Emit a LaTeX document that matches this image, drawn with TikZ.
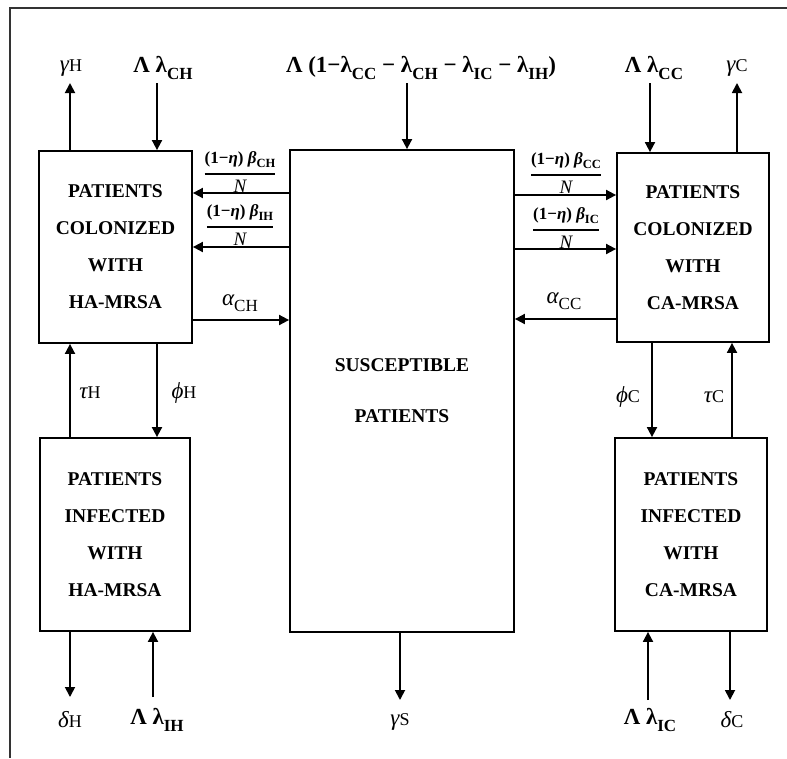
\documentclass[tikz,border=0pt]{standalone}
\usepackage{fontspec}
\usepackage{amsmath}
\setmainfont{Liberation Serif}
\usetikzlibrary{arrows.meta}
\newcommand\lsub[1]{\raisebox{-0.28em}{\fontsize{17}{17}\selectfont #1}}
\newcommand\fsub[1]{\raisebox{-0.25em}{\fontsize{12.5}{12.5}\selectfont #1}}
\newcommand\frc[2]{$\genfrac{}{}{1.8pt}{0}{\text{#1}}{\text{#2}}$}
\newcommand\up[1]{{\fontsize{18}{18}\selectfont #1}}
\newcommand\den{\fontsize{19}{19}\selectfont\itshape N}
\begin{document}
\begin{tikzpicture}[x=1pt,y=-1pt,
  box/.style={draw,line width=1.8pt,inner sep=0pt,align=center,font=\fontsize{19.5}{37}\selectfont\bfseries},
  arr/.style={line width=1.8pt,-{Triangle[length=10pt,width=10pt]}},
  lab/.style={inner sep=0pt,font=\fontsize{23}{23}\selectfont},
  blab/.style={inner sep=0pt,font=\fontsize{23}{23}\selectfont\bfseries},
  frl/.style={inner sep=0pt,font=\fontsize{17}{17}\selectfont}]
\useasboundingbox (0,0) rectangle (787,758);
\draw[line width=2pt,black!80] (787,8) -- (10,8) -- (10,758);
% boxes
\node[box,minimum width=153pt,minimum height=192pt] (HC) at (115.5,247) {PATIENTS\\COLONIZED\\WITH\\HA-MRSA};
\node[box,minimum width=150pt,minimum height=193pt] (HI) at (115,534.5) {PATIENTS\\INFECTED\\WITH\\HA-MRSA};
\node[box,minimum width=224pt,minimum height=482pt,font=\fontsize{19.5}{51}\selectfont\bfseries] (S) at (402,391) {SUSCEPTIBLE\\PATIENTS};
\node[box,minimum width=152pt,minimum height=189pt] (CC) at (693,247.5) {PATIENTS\\COLONIZED\\WITH\\CA-MRSA};
\node[box,minimum width=152pt,minimum height=193pt] (CI) at (691,534.5) {PATIENTS\\INFECTED\\WITH\\CA-MRSA};
% top labels
\node[lab] (gH) at (71,68) {{\itshape γ}\up{H}};
\node[blab] (LCH) at (163,68) {Λ λ\lsub{CH}};
\node[blab] (Ltop) at (421,68) {Λ (1−λ\lsub{CC} − λ\lsub{CH} − λ\lsub{IC} − λ\lsub{IH})};
\node[blab] (LCC) at (654,68) {Λ λ\lsub{CC}};
\node[lab] (gC) at (737,68) {{\itshape γ}\up{C}};
% side labels
\node[frl] (fCH) at (240,172) {\frc{\bfseries(1−\textit{η}) \textit{β}\fsub{CH}}{\den}};
\node[frl] (fIH) at (240,225) {\frc{\bfseries(1−\textit{η}) \textit{β}\fsub{IH}}{\den}};
\node[frl] (fCC) at (566,173) {\frc{\bfseries(1−\textit{η}) \textit{β}\fsub{CC}}{\den}};
\node[frl] (fIC) at (566,228) {\frc{\bfseries(1−\textit{η}) \textit{β}\fsub{IC}}{\den}};
\node[lab] (aCH) at (240,303) {{\itshape α}\lsub{CH}};
\node[lab] (aCC) at (564,301) {{\itshape α}\lsub{CC}};
\node[lab] (tH) at (90,393) {{\itshape τ}\up{H}};
\node[lab] (pH) at (184,393) {{\itshape ϕ}\up{H}};
\node[lab] (pC) at (628,397) {{\itshape ϕ}\up{C}};
\node[lab] (tC) at (714,397) {{\itshape τ}\up{C}};
% bottom labels
\node[lab] (dH) at (70,720) {{\itshape δ}\up{H}};
\node[blab] (LIH) at (157,720) {Λ λ\lsub{IH}};
\node[lab] (gS) at (400,722) {{\itshape γ}\up{S}};
\node[blab] (LIC) at (650,720) {Λ λ\lsub{IC}};
\node[lab] (dC) at (732,720) {{\itshape δ}\up{C}};
% arrows top
\draw[arr] (HC.north -| 70,0) -- (70,83);
\draw[arr] (157,83) -- (HC.north -| 157,0);
\draw[arr] (407,83) -- (S.north -| 407,0);
\draw[arr] (650,83) -- (CC.north -| 650,0);
\draw[arr] (CC.north -| 737,0) -- (737,83);
% arrows middle
\draw[arr] (S.west |- 0,193) -- (HC.east |- 0,193);
\draw[arr] (S.west |- 0,247) -- (HC.east |- 0,247);
\draw[arr] (HC.east |- 0,320) -- (S.west |- 0,320);
\draw[arr] (S.east |- 0,195) -- (CC.west |- 0,195);
\draw[arr] (S.east |- 0,249) -- (CC.west |- 0,249);
\draw[arr] (CC.west |- 0,319) -- (S.east |- 0,319);
\draw[arr] (HI.north -| 70,0) -- (HC.south -| 70,0);
\draw[arr] (HC.south -| 157,0) -- (HI.north -| 157,0);
\draw[arr] (CC.south -| 652,0) -- (CI.north -| 652,0);
\draw[arr] (CI.north -| 732,0) -- (CC.south -| 732,0);
% arrows bottom
\draw[arr] (HI.south -| 70,0) -- (70,697);
\draw[arr] (153,697) -- (HI.south -| 153,0);
\draw[arr] (S.south -| 400,0) -- (400,700);
\draw[arr] (648,700) -- (CI.south -| 648,0);
\draw[arr] (CI.south -| 730,0) -- (730,700);
\end{tikzpicture}
\end{document}
